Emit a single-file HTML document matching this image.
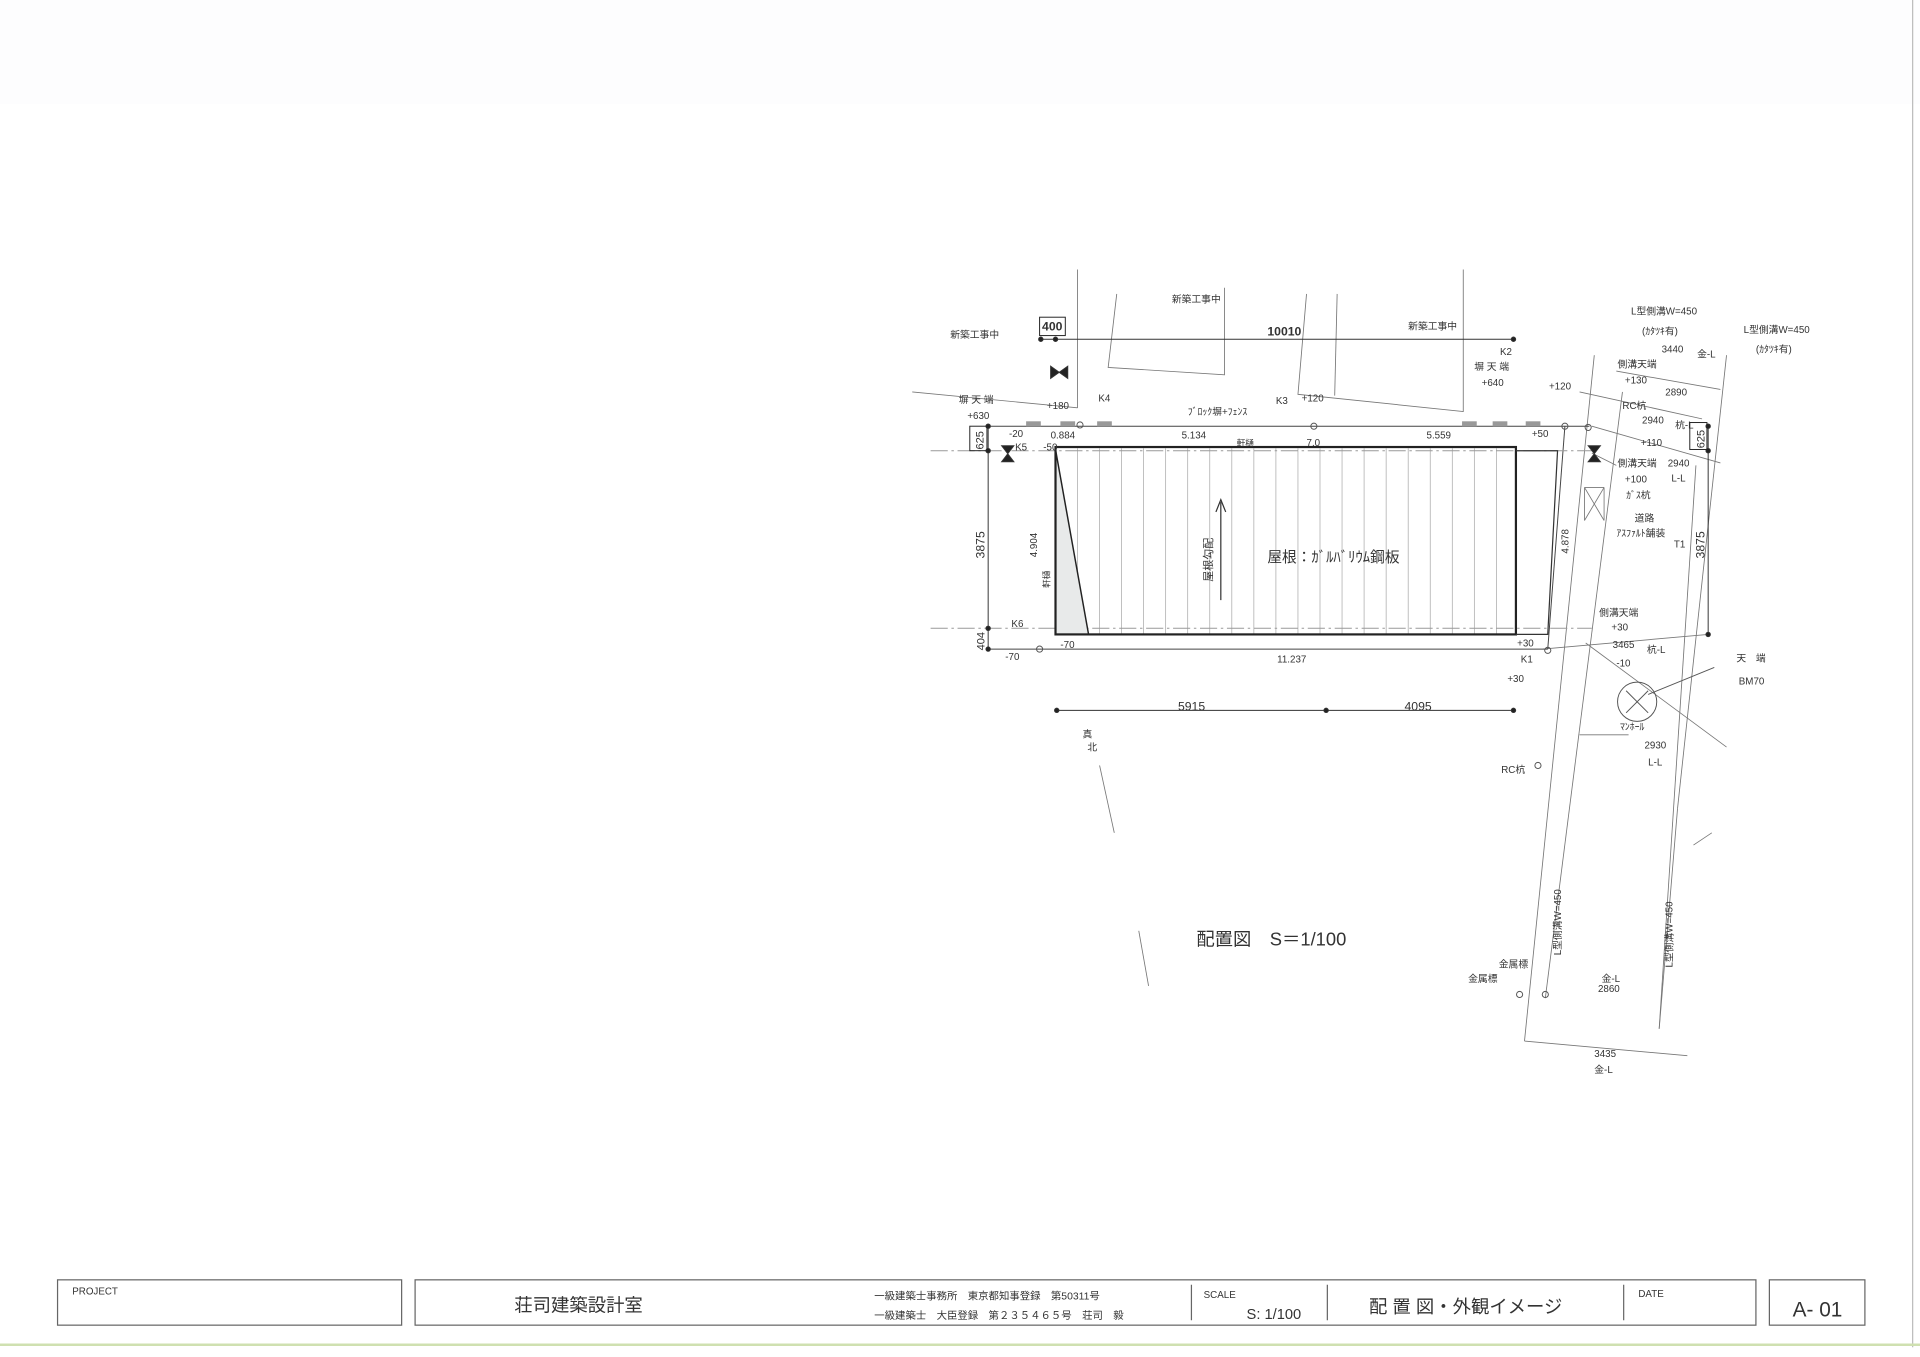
<!DOCTYPE html>
<html><head><meta charset="utf-8"><style>
html,body{margin:0;padding:0;background:#fff;width:1920px;height:1357px;overflow:hidden}
svg{display:block}
text{font-family:"Liberation Sans","Noto Sans CJK JP",sans-serif;fill:#333}
</style></head><body>
<svg width="1920" height="1357" viewBox="0 0 1568 1108" preserveAspectRatio="none">
<rect width="1568" height="1108" fill="#fff"/>
<rect x="0" y="0" width="1568" height="85" fill="#fdfdfe"/>
<line x1="1562" y1="0" x2="1562" y2="1100" stroke="#bbb" stroke-width="1"/>
<line x1="0" y1="1098" x2="1568" y2="1098" stroke="#cfe0b0" stroke-width="2"/>

<!-- title block -->
<g stroke="#666" stroke-width="1" fill="none">
<rect x="47" y="1045" width="281" height="37"/>
<rect x="339" y="1045" width="1095" height="37"/>
<rect x="1445" y="1045" width="78" height="37"/>
<line x1="973" y1="1049" x2="973" y2="1078"/>
<line x1="1084" y1="1049" x2="1084" y2="1078"/>
<line x1="1326" y1="1049" x2="1326" y2="1078"/>
</g>
<text x="59" y="1057" font-size="8">PROJECT</text>
<text x="420" y="1071" font-size="15">荘司建築設計室</text>
<text x="714" y="1061" font-size="8.5">一級建築士事務所　東京都知事登録　第50311号</text>
<text x="714" y="1077" font-size="8.5">一級建築士　大臣登録　第２３５４６５号　荘司　毅</text>
<text x="983" y="1060" font-size="8">SCALE</text>
<text x="1018" y="1077" font-size="12">S: 1/100</text>
<text x="1118" y="1072" font-size="15">配 置 図・外観イメージ</text>
<text x="1338" y="1059" font-size="8">DATE</text>
<text x="1464" y="1075" font-size="17">A- 01</text>

<!-- plan -->
<g stroke="#777" stroke-width="0.7" fill="none">
<line x1="745" y1="320" x2="880" y2="333"/>
<polyline points="880,220 880,333"/>
<polyline points="912,240 905,300 1000,306 1000,235"/>
<polyline points="1067,240 1060,322 1195,336 1195,220"/>
<line x1="1092" y1="240" x2="1090" y2="323"/>
<line x1="1302" y1="290" x2="1245" y2="850"/>
<line x1="1325" y1="320" x2="1262" y2="815"/>
<line x1="1385" y1="380" x2="1355" y2="840"/>
<line x1="1410" y1="290" x2="1370" y2="660"/>
<line x1="1370" y1="660" x2="1355" y2="840"/>
<line x1="1245" y1="850" x2="1378" y2="862"/>
<line x1="1295" y1="525" x2="1410" y2="610"/>
<line x1="1260" y1="530" x2="1395" y2="518"/>
<line x1="1300" y1="348" x2="1405" y2="378"/>
<line x1="1320" y1="303" x2="1405" y2="318"/>
<line x1="1290" y1="320" x2="1390" y2="342"/>
<line x1="1290" y1="600" x2="1330" y2="600"/>
<line x1="898" y1="625" x2="910" y2="680"/>
<line x1="930" y1="760" x2="938" y2="805"/>
<line x1="1300" y1="370" x2="1320" y2="380"/>
<line x1="1294" y1="398" x2="1310" y2="398"/><line x1="1294" y1="398" x2="1294" y2="425"/><line x1="1310" y1="398" x2="1310" y2="425"/>
<line x1="1294" y1="398" x2="1310" y2="425"/><line x1="1310" y1="398" x2="1294" y2="425"/>
<line x1="1383" y1="690" x2="1398" y2="680"/>
</g>
<g stroke="#444" stroke-width="0.8" fill="none">
<line x1="806" y1="348" x2="1298" y2="348"/>
<line x1="806" y1="530" x2="1264" y2="530"/>
<line x1="1264" y1="530" x2="1278" y2="348"/>
<line x1="760" y1="368" x2="1300" y2="368" stroke-dasharray="14,3,2,3" stroke="#999"/>
<line x1="760" y1="513" x2="1300" y2="513" stroke-dasharray="14,3,2,3" stroke="#999"/>
</g>
<g fill="#999">
<rect x="838" y="344" width="12" height="4"/><rect x="866" y="344" width="12" height="4"/><rect x="896" y="344" width="12" height="4"/>
<rect x="1194" y="344" width="12" height="4"/><rect x="1219" y="344" width="12" height="4"/><rect x="1246" y="344" width="12" height="4"/>
</g>
<g stroke="#999" stroke-width="0.5">
<line x1="880" y1="366" x2="880" y2="518"/><line x1="898" y1="366" x2="898" y2="518"/><line x1="916" y1="366" x2="916" y2="518"/><line x1="934" y1="366" x2="934" y2="518"/><line x1="952" y1="366" x2="952" y2="518"/><line x1="970" y1="366" x2="970" y2="518"/><line x1="988" y1="366" x2="988" y2="518"/><line x1="1006" y1="366" x2="1006" y2="518"/><line x1="1024" y1="366" x2="1024" y2="518"/><line x1="1042" y1="366" x2="1042" y2="518"/><line x1="1060" y1="366" x2="1060" y2="518"/><line x1="1078" y1="366" x2="1078" y2="518"/><line x1="1096" y1="366" x2="1096" y2="518"/><line x1="1114" y1="366" x2="1114" y2="518"/><line x1="1132" y1="366" x2="1132" y2="518"/><line x1="1150" y1="366" x2="1150" y2="518"/><line x1="1168" y1="366" x2="1168" y2="518"/><line x1="1186" y1="366" x2="1186" y2="518"/><line x1="1204" y1="366" x2="1204" y2="518"/><line x1="1222" y1="366" x2="1222" y2="518"/>
</g>
<polygon points="862,367 889,518 862,518" fill="#e8eaea" stroke="#222" stroke-width="1.2"/>
<rect x="862" y="365" width="376" height="153" fill="none" stroke="#222" stroke-width="1.8"/>
<polyline points="1238,368 1272,368 1264,518 1238,518" fill="none" stroke="#333" stroke-width="1"/>
<line x1="997" y1="490" x2="997" y2="410" stroke="#333" stroke-width="1"/>
<polyline points="993,418 997,408 1001,418" fill="none" stroke="#333"/>
<text x="1035" y="459" font-size="12">屋根：ｶﾞﾙﾊﾞﾘｳﾑ鋼板</text>
<text font-size="9" transform="translate(990,475) rotate(-90)">屋根勾配</text>
<text x="1010" y="364" font-size="7">軒樋</text>
<text font-size="7" transform="translate(857,480) rotate(-90)">軒樋</text>

<g stroke="#333" stroke-width="0.8" fill="#222">
<line x1="850" y1="277" x2="1236" y2="277"/>
<circle cx="850" cy="277" r="1.8"/><circle cx="862" cy="277" r="1.8"/><circle cx="1236" cy="277" r="1.8"/>
<line x1="863" y1="580" x2="1236" y2="580"/>
<circle cx="863" cy="580" r="1.8"/><circle cx="1083" cy="580" r="1.8"/><circle cx="1236" cy="580" r="1.8"/>
<line x1="807" y1="348" x2="807" y2="530"/>
<circle cx="807" cy="348" r="1.8"/><circle cx="807" cy="368" r="1.8"/><circle cx="807" cy="513" r="1.8"/><circle cx="807" cy="530" r="1.8"/>
<line x1="1395" y1="348" x2="1395" y2="518"/>
<circle cx="1395" cy="348" r="1.8"/><circle cx="1395" cy="368" r="1.8"/><circle cx="1395" cy="518" r="1.8"/>
<polygon points="858,299 872,309 872,299 858,309"/>
<polygon points="818,364 828,364 818,377 828,377"/>
<polygon points="1297,364 1307,364 1297,377 1307,377"/>
</g>
<g fill="none" stroke="#555" stroke-width="0.8">
<circle cx="882" cy="347" r="2.5"/><circle cx="1073" cy="348" r="2.5"/><circle cx="1278" cy="348" r="2.5"/><circle cx="1297" cy="349" r="2.5"/>
<circle cx="849" cy="530" r="2.5"/><circle cx="1264" cy="531" r="2.5"/><circle cx="1241" cy="812" r="2.5"/><circle cx="1262" cy="812" r="2.5"/><circle cx="1256" cy="625" r="2.5"/>
<circle cx="1337" cy="573" r="16"/><line x1="1328" y1="564" x2="1346" y2="582"/><line x1="1346" y1="564" x2="1328" y2="582"/>
<line x1="1346" y1="567" x2="1400" y2="545"/>
<rect x="849" y="259" width="21" height="15" stroke="#222"/>
<rect x="792" y="348" width="14" height="20" stroke="#222"/>
<rect x="1380" y="345" width="14" height="22" stroke="#222"/>
</g>
<g font-size="10" fill="#222">
<text x="851" y="270" font-weight="bold">400</text>
<text x="1035" y="274" font-weight="bold">10010</text>
<text x="962" y="580">5915</text>
<text x="1147" y="580">4095</text>
<text transform="translate(803,367) rotate(-90)" font-size="9">625</text>
<text transform="translate(1392,366) rotate(-90)" font-size="9">625</text>
<text transform="translate(804,456) rotate(-90)">3875</text>
<text transform="translate(1392,456) rotate(-90)">3875</text>
<text transform="translate(804,531) rotate(-90)" font-size="9">404</text>
</g>
<g font-size="8" fill="#444">
<text x="957" y="247">新築工事中</text>
<text x="776" y="276">新築工事中</text>
<text x="1150" y="269">新築工事中</text>
<text x="783" y="329">塀 天 端</text><text x="790" y="342">+630</text>
<text x="855" y="334">+180</text><text x="897" y="328">K4</text>
<text x="970" y="339">ﾌﾞﾛｯｸ塀+ﾌｪﾝｽ</text>
<text x="1042" y="330">K3</text><text x="1063" y="328">+120</text>
<text x="1225" y="290">K2</text><text x="1204" y="302">塀 天 端</text><text x="1210" y="315">+640</text>
<text x="1265" y="318">+120</text>
<text x="824" y="357">-20</text><text x="858" y="358">0.884</text>
<text x="965" y="358">5.134</text><text x="1067" y="364">7.0</text><text x="1165" y="358">5.559</text>
<text x="1251" y="357">+50</text>
<text x="829" y="368">K5</text><text x="852" y="368">-50</text>
<text transform="translate(847,455) rotate(-90)">4.904</text>
<text transform="translate(1281,452) rotate(-90)">4.878</text>
<text x="826" y="512">K6</text><text x="821" y="539">-70</text><text x="866" y="529">-70</text>
<text x="1043" y="541">11.237</text>
<text x="1239" y="528">+30</text><text x="1242" y="541">K1</text><text x="1231" y="557">+30</text>
<text x="1332" y="257">L型側溝W=450</text><text x="1341" y="273">(ｶﾀﾂｷ有)</text>
<text x="1424" y="272">L型側溝W=450</text><text x="1434" y="288">(ｶﾀﾂｷ有)</text>
<text x="1357" y="288">3440</text><text x="1386" y="292">金-L</text>
<text x="1321" y="300">側溝天端</text><text x="1327" y="313">+130</text><text x="1360" y="323">2890</text>
<text x="1325" y="334">RC杭</text><text x="1341" y="346">2940</text><text x="1368" y="350">杭-L</text>
<text x="1340" y="364">+110</text>
<text x="1321" y="381">側溝天端</text><text x="1362" y="381">2940</text><text x="1365" y="393">L-L</text>
<text x="1327" y="394">+100</text><text x="1328" y="407">ｶﾞｽ杭</text>
<text x="1335" y="426">道路</text><text x="1320" y="438">ｱｽﾌｧﾙﾄ舗装</text><text x="1367" y="447">T1</text>
<text x="1306" y="503">側溝天端</text><text x="1316" y="515">+30</text><text x="1317" y="529">3465</text><text x="1345" y="533">杭-L</text><text x="1320" y="544">-10</text>
<text x="1418" y="540">天　端</text><text x="1420" y="559">BM70</text>
<text x="1323" y="596">ﾏﾝﾎｰﾙ</text>
<text x="1343" y="611">2930</text><text x="1346" y="625">L-L</text>
<text x="1226" y="631">RC杭</text>
<text x="884" y="602">真</text><text x="888" y="613">北</text>
<text x="1224" y="790">金属標</text><text x="1199" y="802">金属標</text>
<text x="1308" y="802">金-L</text><text x="1305" y="810">2860</text>
<text x="1302" y="863">3435</text><text x="1302" y="876">金-L</text>
<text transform="translate(1275,780) rotate(-90)">L型側溝W=450</text>
<text transform="translate(1366,790) rotate(-90)">L型側溝W=450</text>
</g>
<text x="977" y="772" font-size="15" fill="#222">配置図　S＝1/100</text>
</svg>
</body></html>
